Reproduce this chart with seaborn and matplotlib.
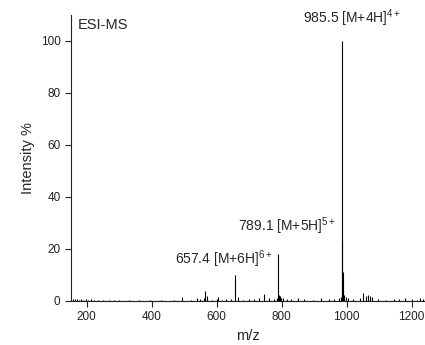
import matplotlib
matplotlib.use("Agg")
import matplotlib.pyplot as plt
import seaborn as sns

sns.set_theme(style="ticks")
plt.rcParams['font.family'] = ['Liberation Sans', 'DejaVu Sans']
plt.rcParams['mathtext.fontset'] = 'custom'
plt.rcParams['mathtext.rm'] = 'Liberation Sans'
plt.rcParams['mathtext.it'] = 'Liberation Sans:italic'

# stick spectrum: m/z and relative intensity (%)
mz = [158, 163, 170, 176, 183, 190, 197, 205, 214, 222, 236, 250, 268, 285, 300,
      330, 360, 395, 430, 470, 495, 520, 540, 548, 560, 565, 570, 585, 600, 605,
      618, 630, 645, 657.4, 665, 680, 700, 715, 730, 745, 760, 775, 785, 789.1,
      791, 794, 798, 805, 815, 830, 850, 870, 895, 920, 945, 960, 975, 983,
      985.0, 985.5, 987.5, 990, 993, 997, 1005, 1020, 1040, 1050, 1058, 1065,
      1072, 1078, 1095, 1120, 1145, 1160, 1180, 1200, 1215, 1225, 1235]
intensity = [0.8, 0.6, 0.7, 0.5, 0.6, 0.4, 0.7, 0.5, 0.6, 0.3, 0.4, 0.3, 0.3, 0.3, 0.3,
             0.3, 0.3, 0.4, 0.3, 0.4, 1.6, 0.4, 1.0, 0.6, 1.2, 3.6, 2.0, 0.5, 0.8, 1.3,
             0.5, 0.6, 0.7, 10.0, 1.6, 0.5, 0.8, 0.6, 1.0, 2.6, 0.9, 0.8, 1.0, 18.0,
             2.2, 1.8, 1.2, 0.9, 0.8, 0.7, 1.0, 0.6, 0.5, 1.2, 0.8, 0.7, 0.9, 1.5,
             23.0, 100.0, 11.0, 4.0, 2.2, 1.5, 0.9, 0.7, 0.9, 3.2, 2.0, 2.4,
             2.0, 1.4, 0.6, 0.5, 0.8, 0.6, 0.9, 0.7, 0.5, 1.0, 0.8]

peak_labels = [
    (1016, 108.8, r"985.5 [M+4H]$^{\mathregular{4+}}$"),
    (816, 28.8, r"789.1 [M+5H]$^{\mathregular{5+}}$"),
    (623, 16.2, r"657.4 [M+6H]$^{\mathregular{6+}}$"),
]

fig = plt.figure(figsize=(4.25, 3.45), dpi=100)
ax = fig.add_axes([0.167, 0.128, 0.833, 0.829])

ax.vlines(mz, 0, intensity, color="black", linewidth=0.8)
ax.axhline(0, color="black", linewidth=0.8)

ax.set_xlim(152, 1241)
ax.set_ylim(0, 110)
ax.set_xticks([200, 400, 600, 800, 1000, 1200])
ax.set_yticks([0, 20, 40, 60, 80, 100])
ax.tick_params(labelsize=8.5, length=4, width=0.8, colors="#222222")
ax.set_xlabel("m/z", fontsize=10.5)
ax.set_ylabel("Intensity %", fontsize=10.5)
sns.despine(ax=ax)
for s in ["left", "bottom"]:
    ax.spines[s].set_linewidth(0.8)
    ax.spines[s].set_color("#222222")

for x, y, txt in peak_labels:
    ax.text(x, y, txt, ha="center", va="center", fontsize=10)
ax.text(173, 106, "ESI-MS", ha="left", va="center", fontsize=10.5)

fig.savefig("out.png", dpi=100)
